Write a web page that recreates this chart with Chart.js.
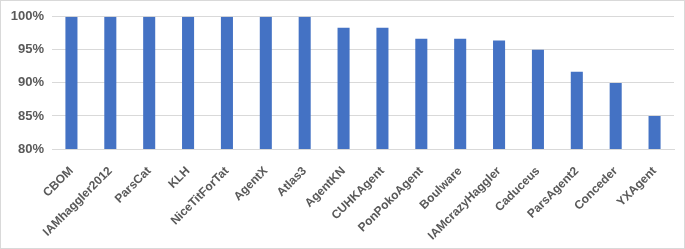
<!DOCTYPE html>
<html>
<head>
<meta charset="UTF-8">
<title>Agents</title>
<script src="https://cdn.jsdelivr.net/npm/chart.js"></script>
<style>
    body { margin: 0; background: #fff; }
    .wrap {
        width: 685px;
        height: 249px;
        box-sizing: border-box;
        border: 1px solid #d9d9d9;
        position: relative;
    }
</style>
</head>
<body>
<div class="wrap"><canvas id="agentChart"></canvas></div>
<script>
const agents = ['CBOM', 'IAMhaggler2012', 'ParsCat', 'KLH', 'NiceTitForTat', 'AgentX', 'Atlas3',
    'AgentKN', 'CUHKAgent', 'PonPokoAgent', 'Boulware', 'IAMcrazyHaggler', 'Caduceus',
    'ParsAgent2', 'Conceder', 'YXAgent'];
const rates = [100, 100, 100, 100, 100, 100, 100, 98.33, 98.33, 96.67, 96.67, 96.43, 95, 91.67, 90, 85];
const yTicks = [80, 85, 90, 95, 100];

new Chart('agentChart', {
    type: 'bar',
    data: {
        labels: agents,
        datasets: [{
            data: rates,
            backgroundColor: '#4472C4',
            barPercentage: 0.31,
            categoryPercentage: 1
        }]
    },
    options: {
        responsive: true,
        maintainAspectRatio: false,
        animation: false,
        layout: { padding: { left: 0, top: 13, right: 10, bottom: 0 } },
        plugins: { legend: { display: false }, tooltip: { enabled: false } },
        scales: {
            x: {
                grid: { display: false },
                border: { color: '#d9d9d9' },
                ticks: {
                    autoSkip: false,
                    minRotation: 45,
                    maxRotation: 45,
                    color: '#595959',
                    font: { family: 'Liberation Sans', size: 12, weight: 'bold' },
                    padding: 7
                },
                afterFit: s => { s.height = 99; }
            },
            y: {
                min: 80,
                max: 100,
                afterBuildTicks: s => { s.ticks = yTicks.map(v => ({ value: v })); },
                grid: { color: '#d9d9d9', drawTicks: false },
                border: { display: false },
                ticks: {
                    color: '#595959',
                    font: { family: 'Liberation Sans', size: 13, weight: 'bold' },
                    padding: 8,
                    callback: v => v + '%'
                },
                afterFit: s => { s.width = 51; }
            }
        }
    }
});
</script>
</body>
</html>
